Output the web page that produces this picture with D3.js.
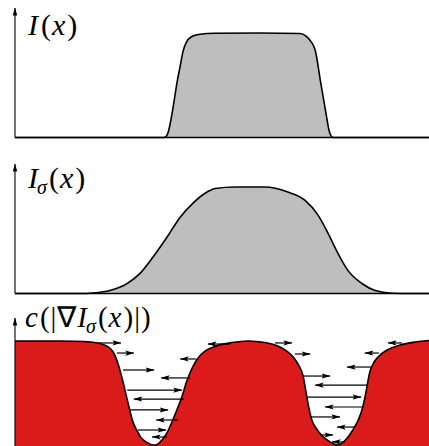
<!DOCTYPE html>
<html>
<head>
<meta charset="utf-8">
<script src="https://cdn.jsdelivr.net/npm/d3@7"></script>
<style>
  html, body { margin: 0; padding: 0; background: #ffffff; }
  svg { display: block; }
</style>
</head>
<body>
<svg id="chart" width="429" height="446"></svg>
<script>
// ---- Data -------------------------------------------------------------
// Step-like input signal I(x)
const xSignal   = [0, 3.26, 3.60, 3.65, 3.70, 3.74, 3.83, 3.91, 3.99, 4.06, 4.13, 4.25, 4.47, 4.83, 5.92, 6.88, 7.03, 7.15, 7.25, 7.39, 7.52, 7.58, 7.63, 7.68, 10];
const valSignal = [0, 0, 0, 0.01, 0.05, 0.115, 0.317, 0.519, 0.683, 0.827, 0.904, 0.962, 0.988, 0.997, 1.0, 0.995, 0.971, 0.918, 0.837, 0.510, 0.212, 0.077, 0.019, 0, 0];

// Gaussian-smoothed signal I_sigma(x)
const xSmooth   = [0, 1.57, 1.88, 2.29, 2.71, 3.02, 3.33, 3.67, 3.99, 4.30, 4.64, 4.83, 5.31, 6.04, 6.59, 7.00, 7.32, 7.56, 7.80, 8.04, 8.38, 8.70, 9.11, 9.54, 10];
const valSmooth = [0, 0, 0.005, 0.028, 0.094, 0.189, 0.34, 0.528, 0.717, 0.849, 0.953, 0.986, 1.0, 1.0, 0.953, 0.877, 0.736, 0.566, 0.377, 0.217, 0.094, 0.028, 0.003, 0, 0];

// Edge-stopping function c(|grad I_sigma|)
const xStop   = [0, 1.09, 1.69, 2.05, 2.25, 2.37, 2.49, 2.61, 2.73, 2.85, 2.95, 3.04, 3.19, 3.33, 3.43, 3.55, 3.67, 3.79, 3.91, 4.03, 4.15, 4.28, 4.42, 4.59, 4.83, 5.24, 5.63, 6.04, 6.40, 6.59, 6.74, 6.86, 6.96, 7.00, 7.05, 7.10, 7.17, 7.27, 7.39, 7.61, 7.80, 7.97, 8.16, 8.29, 8.38, 8.45, 8.50, 8.57, 8.67, 8.77, 8.99, 9.30, 9.66, 10];
const valStop = [0.991, 0.991, 0.986, 0.967, 0.934, 0.887, 0.774, 0.604, 0.406, 0.226, 0.142, 0.080, 0.033, 0.009, 0.014, 0.057, 0.123, 0.226, 0.340, 0.462, 0.613, 0.736, 0.830, 0.896, 0.939, 0.976, 0.991, 0.976, 0.934, 0.887, 0.830, 0.755, 0.660, 0.575, 0.462, 0.358, 0.245, 0.170, 0.108, 0.038, 0.009, 0.052, 0.151, 0.245, 0.340, 0.453, 0.557, 0.698, 0.788, 0.840, 0.906, 0.953, 0.981, 0.995];

// Flux arrows: level on the c-axis, tail and head positions along x
const arrowLevel = [0.972, 0.877, 0.717, 0.528, 0.340, 0.151, 0.962, 0.821, 0.642, 0.443, 0.245, 0.085,
                    0.972, 0.868, 0.660, 0.462, 0.274, 0.104, 0.972, 0.877, 0.745, 0.575, 0.368, 0.179, 0.038];
const arrowFrom  = [1.98, 2.46, 2.61, 2.71, 2.78, 2.97, 5.19, 4.37, 4.23, 4.08, 3.94, 3.67,
                    6.28, 6.76, 6.96, 7.05, 7.15, 7.37, 9.35, 8.79, 8.62, 8.53, 8.41, 8.20, 7.97];
const arrowTo    = [2.56, 2.87, 3.36, 4.03, 3.70, 3.65, 4.66, 3.99, 3.53, 2.87, 3.41, 3.31,
                    6.69, 7.13, 7.61, 8.36, 7.85, 7.68, 9.01, 8.45, 8.02, 7.25, 7.49, 7.78, 7.66];

// ---- Layout -----------------------------------------------------------
const svg = d3.select("#chart");
const x = d3.scaleLinear().domain([0, 10]).range([15, 429]);

const panels = [
  { xs: xSignal, vs: valSignal, axisTop: 8,   base: 137.5, top: 33,  fill: "#bebebe", baseline: true },
  { xs: xSmooth, vs: valSmooth, axisTop: 164, base: 293.5, top: 187, fill: "#bebebe", baseline: true },
  { xs: xStop,   vs: valStop,   axisTop: 318, base: 446,   top: 340, fill: "#db1a1a", baseline: false }
];

const defs = svg.append("defs");
defs.append("marker")
  .attr("id", "head").attr("viewBox", "0 -3 9 6")
  .attr("refX", 8.5).attr("refY", 0)
  .attr("markerWidth", 9).attr("markerHeight", 6)
  .attr("markerUnits", "userSpaceOnUse").attr("orient", "auto")
  .append("path").attr("d", "M0,-2.6 L9,0 L0,2.6 L1.8,0 Z").attr("fill", "#000");
defs.append("marker")
  .attr("id", "axisHead").attr("viewBox", "0 -3 8 6")
  .attr("refX", 7.5).attr("refY", 0)
  .attr("markerWidth", 8).attr("markerHeight", 6)
  .attr("markerUnits", "userSpaceOnUse").attr("orient", "auto")
  .append("path").attr("d", "M0,-2.2 L8,0 L0,2.2 Z").attr("fill", "#000");

panels.forEach(p => {
  const y = d3.scaleLinear().domain([0, 1]).range([p.base, p.top]);
  p.y = y;
  const pts = p.xs.map((d, k) => [d, p.vs[k]]);

  const area = d3.area()
    .x(d => x(d[0])).y0(y(0)).y1(d => y(d[1]))
    .curve(d3.curveMonotoneX);
  const line = d3.line()
    .x(d => x(d[0])).y(d => y(d[1]))
    .curve(d3.curveMonotoneX);

  svg.append("path").datum(pts).attr("d", area).attr("fill", p.fill);

  if (p.baseline) {
    svg.append("line")
      .attr("x1", x(0)).attr("x2", x(10))
      .attr("y1", y(0)).attr("y2", y(0))
      .attr("stroke", "#000").attr("stroke-width", 1.3);
  }

  svg.append("path").datum(pts).attr("d", line)
    .attr("fill", "none").attr("stroke", "#000")
    .attr("stroke-width", 1.6).attr("stroke-linejoin", "round");

  // vertical axis with arrow tip
  svg.append("line")
    .attr("x1", x(0)).attr("x2", x(0))
    .attr("y1", p.base).attr("y2", p.axisTop)
    .attr("stroke", "#000").attr("stroke-width", 1.1)
    .attr("marker-end", "url(#axisHead)");
});

// flux arrows in the bottom panel
const yc = panels[2].y;
const arrows = arrowLevel.map((v, k) => ({ v, a: arrowFrom[k], b: arrowTo[k] }));
svg.append("g").selectAll("line").data(arrows).join("line")
  .attr("x1", d => x(d.a)).attr("x2", d => x(d.b))
  .attr("y1", d => yc(d.v)).attr("y2", d => yc(d.v))
  .attr("stroke", "#000").attr("stroke-width", 1.2)
  .attr("marker-end", "url(#head)");

// ---- Labels (math-style) ---------------------------------------------
const SERIF = "'Liberation Serif'";
function mathLabel(px, py, size, parts) {
  const t = svg.append("text")
    .attr("x", px).attr("y", py)
    .style("font-family", SERIF)
    .style("font-size", size + "px").attr("fill", "#000");
  parts.forEach(s => {
    const ts = t.append("tspan").style("font-family", SERIF).text(s.t);
    if (s.it) ts.style("font-style", "italic");
    if (s.sub) ts.style("font-size", Math.round(size * 0.68) + "px");
    if (s.dx) ts.attr("dx", s.dx);
    if (s.dy) ts.attr("dy", s.dy);
  });
}

mathLabel(28, 35, 30, [
  { t: "I", it: true }, { t: "(", dx: 3 }, { t: "x", it: true, dx: 1 }, { t: ")", dx: 2 }
]);
mathLabel(28, 188, 30, [
  { t: "I", it: true }, { t: "σ", it: true, sub: true, dy: 6, dx: -1 },
  { t: "(", dy: -6, dx: 2 }, { t: "x", it: true, dx: 1 }, { t: ")", dx: 2 }
]);
mathLabel(25, 327, 29, [
  { t: "c", it: true }, { t: "(", dx: 2 }, { t: "|", dx: 1 }, { t: "∇", dx: 1 },
  { t: "I", it: true, dx: 1 }, { t: "σ", it: true, sub: true, dy: 6, dx: -1 },
  { t: "(", dy: -6, dx: 2 }, { t: "x", it: true, dx: 1 }, { t: ")", dx: 2 },
  { t: "|", dx: 1 }, { t: ")", dx: 1 }
]);
</script>
</body>
</html>
